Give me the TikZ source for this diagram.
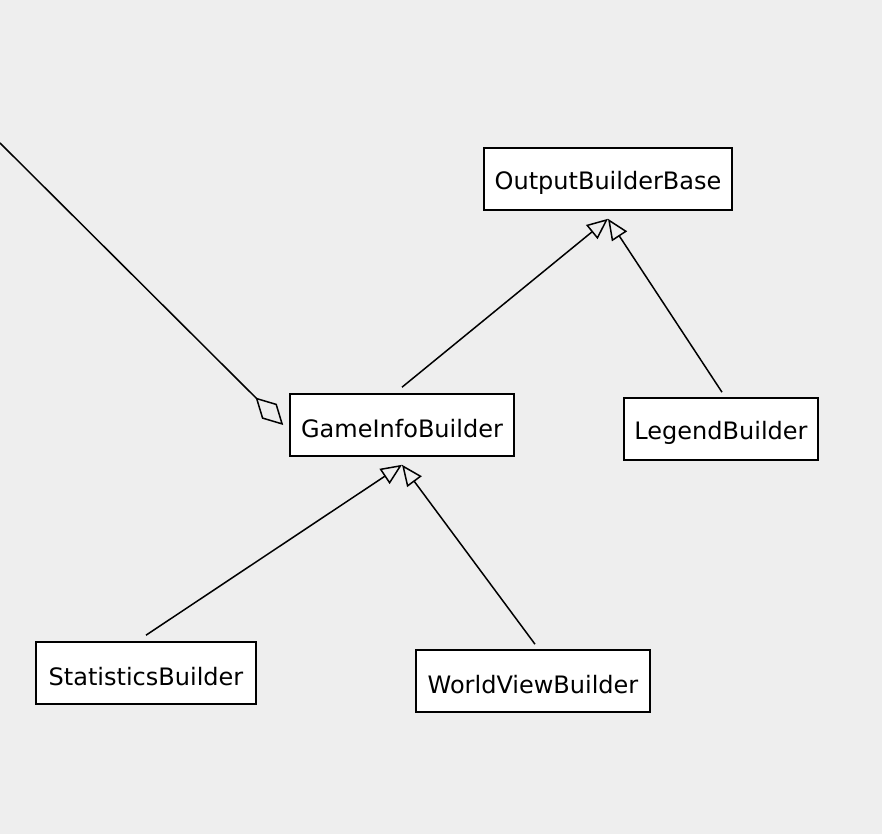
\documentclass[tikz,border=0pt]{standalone}
\usepackage{fontspec}
\setmainfont{DejaVu Sans}
\usetikzlibrary{arrows.meta}
\definecolor{bgc}{HTML}{EEEEEE}
\newcommand{\clsname}[1]{\raisebox{-4pt}[\height][\depth]{#1}}
\begin{document}
\begin{tikzpicture}[x=1pt,y=-1pt,
  cls/.style={draw=black, line width=1.6pt, fill=white, rectangle, minimum height=62pt, inner sep=0pt, font=\fontsize{24}{28}\selectfont},
  gen/.style={line width=1.5pt, -{Triangle[open, length=21pt, width=18pt, line width=1.5pt]}},
  agg/.style={line width=1.5pt, -{Diamond[open, length=39pt, width=21pt, line width=1.5pt]}}]
\fill[bgc] (0,0) rectangle (882,834);
\useasboundingbox (0,0) rectangle (882,834);
\node[cls, minimum width=248pt] (obb) at (608,179) {\clsname{OutputBuilderBase}};
\node[cls, minimum width=224pt] (gib) at (402,425) {\clsname{GameInfoBuilder}};
\node[cls, minimum width=194pt] (lb) at (721,429) {\clsname{LegendBuilder}};
\node[cls, minimum width=220pt] (sb) at (146,673) {\clsname{StatisticsBuilder}};
\node[cls, minimum width=234pt] (wvb) at (533,681) {\clsname{WorldViewBuilder}};
\coordinate (obbtip) at ([yshift=-8pt]obb.south);
\coordinate (gibtip) at ([yshift=-8pt]gib.south);
\coordinate (aggstart) at (0,143);
\coordinate (aggtip) at ([xshift=-6pt]gib.west);
\draw[gen] ([yshift=6pt]gib.north) -- (obbtip);
\draw[gen] ([yshift=5pt,xshift=1pt]lb.north) -- (obbtip);
\draw[gen] ([yshift=6pt]sb.north) -- (gibtip);
\draw[gen] ([yshift=5pt,xshift=2pt]wvb.north) -- (gibtip);
\draw[agg] (aggstart) -- (aggtip);
\end{tikzpicture}
\end{document}
